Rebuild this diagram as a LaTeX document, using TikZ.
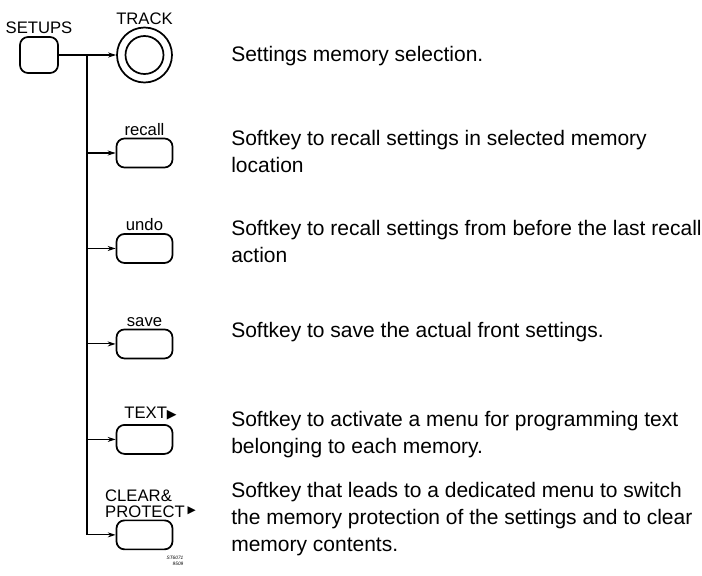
\documentclass[tikz,border=0pt]{standalone}
\usepackage{fontspec}
\setmainfont{Liberation Sans}
\newfontfamily\symfont{DejaVu Sans}
\usetikzlibrary{positioning, arrows.meta}

\newcommand{\menuarrow}[1]{{\symfont\fontsize{#1}{#1}\selectfont ▶}}

\begin{document}
\begin{tikzpicture}[x=0.75pt,y=-0.75pt,>={Stealth[length=6pt,width=3.8pt]},node distance=71.6pt,
    key/.style={draw,rounded corners=6pt,line width=1.3pt,minimum width=42pt,minimum height=21.75pt},
    knob/.style={circle,draw,line width=1.3pt},
    keylabel/.style={font=\fontsize{12.5}{11.5}\selectfont,inner sep=1.5pt},
    desc/.style={anchor=base west,align=left,inner sep=0pt,font=\fontsize{15.75}{19.9}\selectfont},
    wire/.style={line width=0.8pt}]
  \useasboundingbox (0,0) rectangle (702,575);

  % front panel keys
  \node[key,minimum width=28.5pt,minimum height=27pt,label={[keylabel]above:SETUPS}] (setups) at (39,55) {};
  \node[knob,minimum size=41.25pt,label={[keylabel]above:TRACK}] (track) at (144.5,55) {};
  \node[knob,minimum size=28.5pt] (trackin) at (track) {};

  \node[key,label={[keylabel]above:recall}] (recall) [below of=track,node distance=73.5pt] {};
  \node[key,label={[keylabel]above:undo}] (undo) [below of=recall] {};
  \node[key,label={[keylabel]above:save}] (save) [below of=undo] {};
  \node[key,label={[keylabel,xshift=4.5pt,yshift=1.5pt]above:{TEXT\menuarrow{9.5}}}] (textkey) [below of=save] {};
  \node[key,label={[keylabel,align=left,xshift=4.5pt]above:{CLEAR\&\\PROTECT\,\smash{\raisebox{3pt}{\menuarrow{8}}}}}] (clear) [below of=textkey] {};

  \node[font=\fontsize{3.6}{4.2}\selectfont\itshape,align=right,inner sep=0pt] (code) at (175,561) {ST6071\\9509};

  % connections
  \coordinate (bus) at (87,55);
  \draw[wire,->] (setups) -- (track);
  \foreach \k in {recall,undo,save,textkey,clear}
    \draw[wire,->] (bus) |- (\k);

  % descriptions (base = last line)
  \node[desc] (dtrack) at (231,61) {Settings memory selection.};
  \node[desc] (drecall) at (231,172) {Softkey to recall settings in selected memory\\location};
  \node[desc] (dundo) at (231,262) {Softkey to recall settings from before the last recall\\action};
  \node[desc] (dsave) at (231,337) {Softkey to save the actual front settings.};
  \node[desc] (dtext) at (231,453) {Softkey to activate a menu for programming text\\belonging to each memory.};
  \node[desc] (dclear) at (231,551) {Softkey that leads to a dedicated menu to switch\\the memory protection of the settings and to clear\\memory contents.};
\end{tikzpicture}
\end{document}
